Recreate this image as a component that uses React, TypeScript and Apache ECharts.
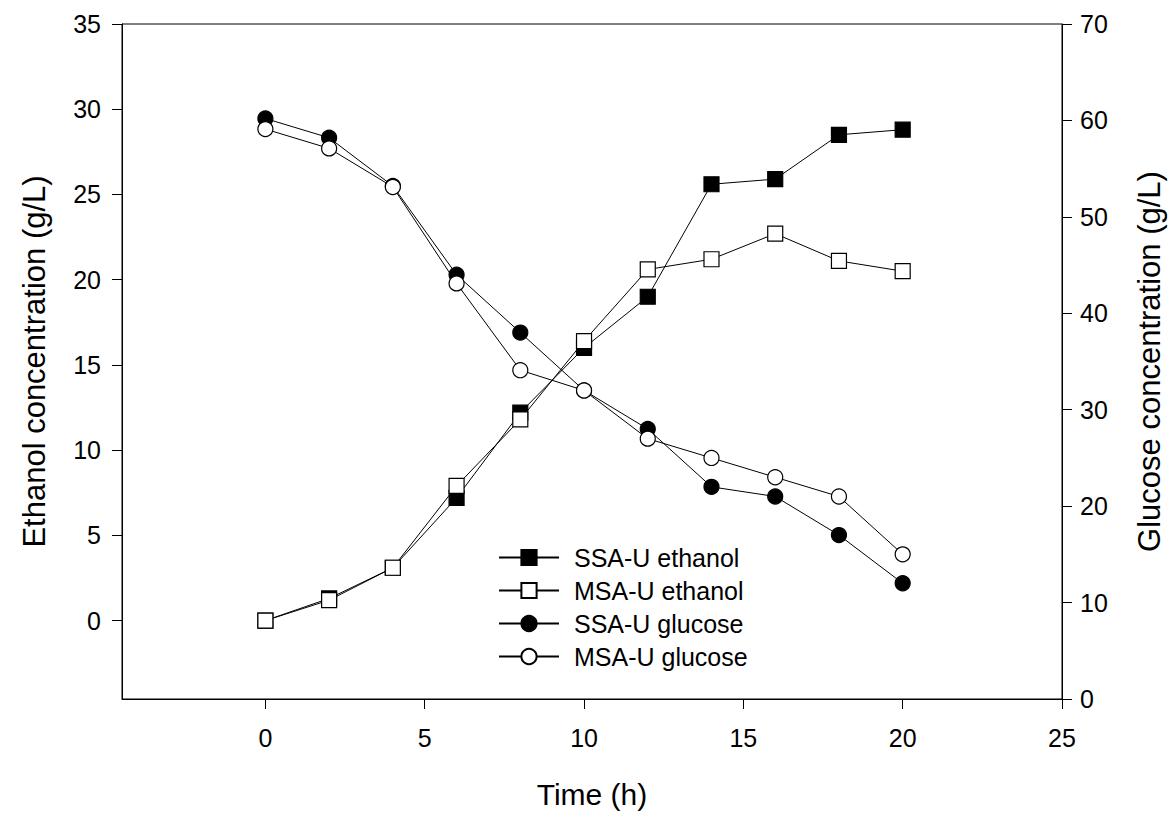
import React, { useEffect, useRef } from "react";
import * as echarts from "echarts";

const timeH = [0, 2, 4, 6, 8, 10, 12, 14, 16, 18, 20];
const ssaEthanol = [0, 1.3, 3.1, 7.2, 12.2, 16.0, 19.0, 25.6, 25.9, 28.5, 28.8];
const msaEthanol = [0, 1.2, 3.1, 7.9, 11.8, 16.4, 20.6, 21.2, 22.7, 21.1, 20.5];
const ssaGlucose = [60.2, 58.2, 53.2, 44.0, 38.0, 32.0, 28.0, 22.0, 21.0, 17.0, 12.0];
const msaGlucose = [59.1, 57.1, 53.1, 43.1, 34.1, 32.0, 27.0, 25.0, 23.0, 21.0, 15.0];

const xTicks = [0, 5, 10, 15, 20, 25];
const leftTicks = [0, 5, 10, 15, 20, 25, 30, 35];
const rightTicks = [0, 10, 20, 30, 40, 50, 60, 70];

const seriesNames = ["SSA-U ethanol", "MSA-U ethanol", "SSA-U glucose", "MSA-U glucose"];

const FONT = "'Liberation Sans', Arial, sans-serif";

function pairs(xs: number[], ys: number[]) {
  return xs.map((x, i) => [x, ys[i]]);
}

export default function App() {
  const ref = useRef<HTMLDivElement>(null);
  useEffect(() => {
    if (!ref.current) return;
    const chart = echarts.init(ref.current, undefined, { renderer: "svg" });
    const axisCommon = {
      axisLine: { show: true, onZero: false, lineStyle: { color: "#000", width: 1 } },
      axisTick: { show: true, inside: false, length: 10, lineStyle: { color: "#000", width: 1 } },
      splitLine: { show: false },
    };
    const mk = (
      name: string,
      ys: number[],
      yAxisIndex: number,
      symbol: string,
      size: number,
      filled: boolean
    ) => ({
      name,
      type: "line",
      yAxisIndex,
      data: pairs(timeH, ys),
      symbol,
      symbolSize: size,
      showAllSymbol: true,
      lineStyle: { color: "#000", width: 1 },
      itemStyle: {
        color: filled ? "#000" : "#fff",
        borderColor: "#000",
        borderWidth: 1.2,
      },
      emphasis: { disabled: true },
      z: 2,
    });
    chart.setOption({
      animation: false,
      backgroundColor: "#fff",
      textStyle: { fontFamily: FONT, color: "#000" },
      grid: {
        left: 122,
        right: 112,
        top: 24,
        bottom: 111,
        show: true,
        borderColor: "#000",
        borderWidth: 1,
        backgroundColor: "transparent",
      },
      legend: {
        orient: "vertical",
        left: 493,
        top: 540,
        itemWidth: 60,
        itemHeight: 19,
        itemGap: 8,
        data: seriesNames,
        selectedMode: false,
        textStyle: { fontSize: 25, color: "#000", fontFamily: FONT, padding: [0, 0, 0, 10] },
      },
      xAxis: {
        type: "value",
        min: -4.5,
        max: 25,
        ...axisCommon,
        axisTick: { ...axisCommon.axisTick, customValues: xTicks },
        axisLabel: {
          customValues: xTicks,
          fontSize: 25,
          color: "#000",
          margin: 26,
          fontFamily: FONT,
        },
        name: "Time (h)",
        nameLocation: "middle",
        nameGap: 80,
        nameTextStyle: { fontSize: 30, color: "#000", fontFamily: FONT },
      },
      yAxis: [
        {
          type: "value",
          position: "left",
          min: -4.6,
          max: 35,
          ...axisCommon,
          axisTick: { ...axisCommon.axisTick, customValues: leftTicks },
          axisLabel: {
            customValues: leftTicks,
            fontSize: 25,
            color: "#000",
            margin: 21,
            fontFamily: FONT,
          },
          name: "Ethanol concentration (g/L)",
          nameLocation: "middle",
          nameGap: 72,
          nameTextStyle: { fontSize: 31, color: "#000", fontFamily: FONT },
        },
        {
          type: "value",
          position: "right",
          min: 0,
          max: 70,
          ...axisCommon,
          axisTick: { ...axisCommon.axisTick, customValues: rightTicks },
          axisLabel: {
            customValues: rightTicks,
            fontSize: 25,
            color: "#000",
            margin: 18,
            fontFamily: FONT,
          },
          name: "Glucose concentration (g/L)",
          nameLocation: "middle",
          nameGap: 72,
          nameTextStyle: { fontSize: 31, color: "#000", fontFamily: FONT },
        },
      ],
      series: [
        mk(seriesNames[0], ssaEthanol, 0, "rect", 15, true),
        mk(seriesNames[1], msaEthanol, 0, "rect", 15, false),
        mk(seriesNames[2], ssaGlucose, 1, "circle", 15, true),
        mk(seriesNames[3], msaGlucose, 1, "circle", 15, false),
      ],
    });
    return () => chart.dispose();
  }, []);
  return (
    <div
      ref={ref}
      style={{ position: "absolute", left: 0, top: 0, width: 1174, height: 814, background: "#fff" }}
    />
  );
}
